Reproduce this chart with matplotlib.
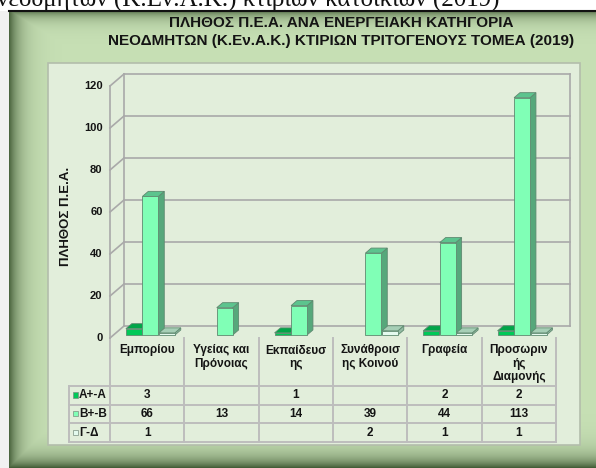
import numpy as np
import matplotlib
matplotlib.use('Agg')
import matplotlib.pyplot as plt
from matplotlib.patches import Polygon, Rectangle

# ---------------- data ----------------
categories = ["Εμπορίου", "Υγείας και\nΠρόνοιας", "Εκπαίδευσ\nης",
              "Συνάθροισ\nης Κοινού", "Γραφεία", "Προσωριν\nής\nΔιαμονής"]
series_names = ["Α+-Α", "Β+-Β", "Γ-Δ"]
vals_A = [3, None, 1, None, 2, 2]
vals_B = [66, 13, 14, 39, 44, 113]
vals_G = [1, None, None, 2, 1, 1]
y_ticks = [0, 20, 40, 60, 80, 100, 120]
title_text = ("ΠΛΗΘΟΣ Π.Ε.Α. ΑΝΑ ΕΝΕΡΓΕΙΑΚΗ ΚΑΤΗΓΟΡΙΑ\n"
              "ΝΕΟΔΜΗΤΩΝ (Κ.Εν.Α.Κ.) ΚΤΙΡΙΩΝ ΤΡΙΤΟΓΕΝΟΥΣ ΤΟΜΕΑ (2019)")
y_title = "ΠΛΗΘΟΣ Π.Ε.Α."
top_caption = "νεοδμητων (Κ.Εν.Α.Κ.) κτιρίων κατοικιών (2019)"

series = [vals_A, vals_B, vals_G]
face_cols = ['#00c957', '#80ffb6', '#e4faee']
top_cols = ['#00a548', '#5cc48e', '#a6cfb6']
side_cols = ['#009443', '#56a87b', '#93bba3']

NARROW = ['Liberation Sans Narrow', 'Liberation Sans', 'DejaVu Sans']
SANS = ['Liberation Sans', 'DejaVu Sans']
TXT = '#141414'

W_PX, H_PX = 596, 468
fig = plt.figure(figsize=(W_PX / 100, H_PX / 100), dpi=100)
fig.patch.set_facecolor('white')

# ---------------- background / frame ----------------
bg = fig.add_axes([0, 0, 1, 1])
bg.axis('off')

Hf, Wf = H_PX - 11, W_PX - 9
yy, xx = np.mgrid[0:Hf, 0:Wf].astype(float)
base = np.array([199, 224, 181]) / 255.0
dark = np.array([62, 88, 50]) / 255.0
d_left = np.exp(-xx / 11.0) * 0.9
d_top = np.exp(-yy / 7.0) * 0.75
d_bot = np.exp(-(Hf - 1 - yy) / 11.0) * 0.95
dk = np.clip(np.maximum(np.maximum(d_left, d_top), d_bot), 0, 1)[..., None]
img = base * (1 - dk) + dark * dk
bg.imshow(img, extent=[9, W_PX, H_PX, 11], aspect='auto', zorder=1,
          interpolation='bilinear')
bg.add_patch(Rectangle((0, 11), 9, H_PX - 11, facecolor='#f1f1f1',
                       edgecolor='none', zorder=1))
bg.plot([9, W_PX], [11, 11], color='#111111', lw=1.5, zorder=2)

# panel
bg.add_patch(Rectangle((48, 63), 580 - 48, 445 - 63, facecolor='#e2eedb',
                       edgecolor='#b3bdab', lw=1.2, zorder=2))

# caption strip at top (cut off, as in the source image)
bg.text(-3, 5.5, top_caption, family=['Liberation Serif', 'DejaVu Serif'],
        fontsize=18, color='#111111', va='baseline', ha='left', zorder=3)

# title
bg.text(341, 32, title_text, family=NARROW, fontweight='bold', fontsize=11,
        color=TXT, ha='center', va='center', linespacing=1.35, zorder=3)

bg.set_xlim(0, W_PX)
bg.set_ylim(H_PX, 0)

# ---------------- 3D chart axes ----------------
X0, X1, Y0, Y1 = 110, 556, 338, 86
ax = fig.add_axes([X0 / W_PX, (H_PX - Y0) / H_PX, (X1 - X0) / W_PX, (Y0 - Y1) / H_PX])
ax.set_xlim(0, len(categories))
ax.set_ylim(0, y_ticks[-1])
ax.axis('off')
ux = (X1 - X0) / len(categories)
uy = (Y0 - Y1) / y_ticks[-1]
DX, DY = 14 / ux, 12 / uy
ncat = len(categories)
gcol = '#a9a9a9'

for t in y_ticks:
    ax.plot([DX, ncat + DX], [t + DY, t + DY], color=gcol, lw=1.2, clip_on=False, zorder=1)
    ax.plot([0, DX], [t, t + DY], color=gcol, lw=1.2, clip_on=False, zorder=1)
    ax.text(-0.1, t, str(t), ha='right', va='center', family=NARROW,
            fontweight='bold', fontsize=8, color=TXT)
ax.plot([0, 0], [0, y_ticks[-1]], color=gcol, lw=1.2, clip_on=False, zorder=1)
ax.plot([DX, DX], [DY, y_ticks[-1] + DY], color=gcol, lw=1.2, clip_on=False, zorder=1)
ax.plot([ncat + DX, ncat + DX], [DY, y_ticks[-1] + DY], color=gcol, lw=1.2,
        clip_on=False, zorder=1)

# bars
w = 0.215
step = 0.222
t0, t1 = 0.25, 0.67
sx, sy = t0 * DX, t0 * DY
ex, ey = t1 * DX, t1 * DY
ecol = '#5f8a70'
z = 2
for i in range(ncat):
    for s, vals in enumerate(series):
        v = vals[i]
        if v is None:
            continue
        x0 = i + 0.5 - 1.5 * step + s * step
        front = [(x0 + sx, sy), (x0 + w + sx, sy), (x0 + w + sx, v + sy), (x0 + sx, v + sy)]
        side = [(x0 + w + sx, sy), (x0 + w + ex, ey), (x0 + w + ex, v + ey), (x0 + w + sx, v + sy)]
        top = [(x0 + sx, v + sy), (x0 + w + sx, v + sy), (x0 + w + ex, v + ey), (x0 + ex, v + ey)]
        for poly, col in ((side, side_cols[s]), (top, top_cols[s]), (front, face_cols[s])):
            ax.add_patch(Polygon(poly, closed=True, facecolor=col, edgecolor=ecol,
                                 lw=0.6, clip_on=False, zorder=z))
        z += 1

# y-axis title
bg.text(66, 216, y_title, rotation=90, ha='center', va='center', family=SANS,
        fontweight='bold', fontsize=9.5, color=TXT, zorder=5)

# ---------------- data table ----------------
col_x = np.linspace(X0, X1, ncat + 1)
row_y = [386, 404.5, 423, 442]
tcol = '#bdbdbd'
for x in col_x:
    bg.plot([x, x], [Y0, row_y[-1]], color=tcol, lw=1.4, zorder=4)
bg.plot([69, 69], [row_y[0], row_y[-1]], color=tcol, lw=1.4, zorder=4)
for y in row_y:
    bg.plot([69, X1], [y, y], color=tcol, lw=1.4, zorder=4)

for i, cat in enumerate(categories):
    cx = (col_x[i] + col_x[i + 1]) / 2
    bg.text(cx, 344.5, cat, ha='center', va='top', family=NARROW, fontweight='bold',
            fontsize=8.5, color=TXT, linespacing=1.15, zorder=5)

for r, (name, vals) in enumerate(zip(series_names, series)):
    cy = (row_y[r] + row_y[r + 1]) / 2
    bg.add_patch(Rectangle((72.5, cy - 3), 5.5, 5.5, facecolor=face_cols[r],
                           edgecolor='#7a8f80', lw=0.5, zorder=5))
    bg.text(79, cy, name, ha='left', va='center', family=NARROW, fontweight='bold',
            fontsize=8.5, color=TXT, zorder=5)
    for i, v in enumerate(vals):
        if v is None:
            continue
        cx = (col_x[i] + col_x[i + 1]) / 2
        bg.text(cx, cy, str(v), ha='center', va='center', family=NARROW,
                fontweight='bold', fontsize=8.5, color=TXT, zorder=5)

fig.savefig('out.png', dpi=100)
